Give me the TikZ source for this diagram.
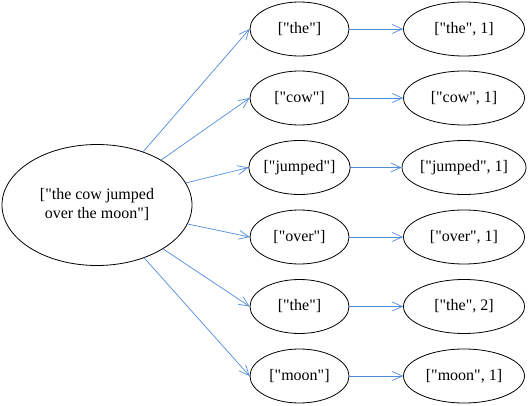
\documentclass[tikz,border=0pt]{standalone}
\usepackage{fontspec}
\setmainfont{Liberation Serif}[Ligatures=TeXOff]
\usetikzlibrary{shapes.geometric,arrows.meta}
\definecolor{edgeblue}{RGB}{80,140,220}
\begin{document}
\begin{tikzpicture}[x=1pt,y=-1pt,
  bubble/.style={draw=black,line width=0.8pt,ellipse,inner sep=0pt,font=\fontsize{16}{19}\selectfont},
  mid/.style={bubble,minimum width=99pt,minimum height=54pt},
  res/.style={bubble,minimum width=121pt,minimum height=54pt},
  link/.style={draw=edgeblue,line width=0.7pt,-{Straight Barb[length=10pt,width=9pt,line width=0.7pt]}}]
\useasboundingbox (0,0) rectangle (528,406);
\node[bubble,minimum width=190pt,minimum height=121pt,align=center] (src) at (97,205) {["the cow jumped\\over the moon"]};
\foreach \i/\w/\r/\y in {1/the/1/29,2/cow/1/98,3/jumped/1/167.5,4/over/1/237,5/the/2/306.5,6/moon/1/376}{
  \node[mid] (m\i) at (299.5,\y) {["\w"]};
  \node[res] (r\i) at (464,\y) {["\w", \r]};
  \draw[link] (src) -- (m\i.west);
  \draw[link] (m\i.east) -- (r\i.west);
}
\end{tikzpicture}
\end{document}
